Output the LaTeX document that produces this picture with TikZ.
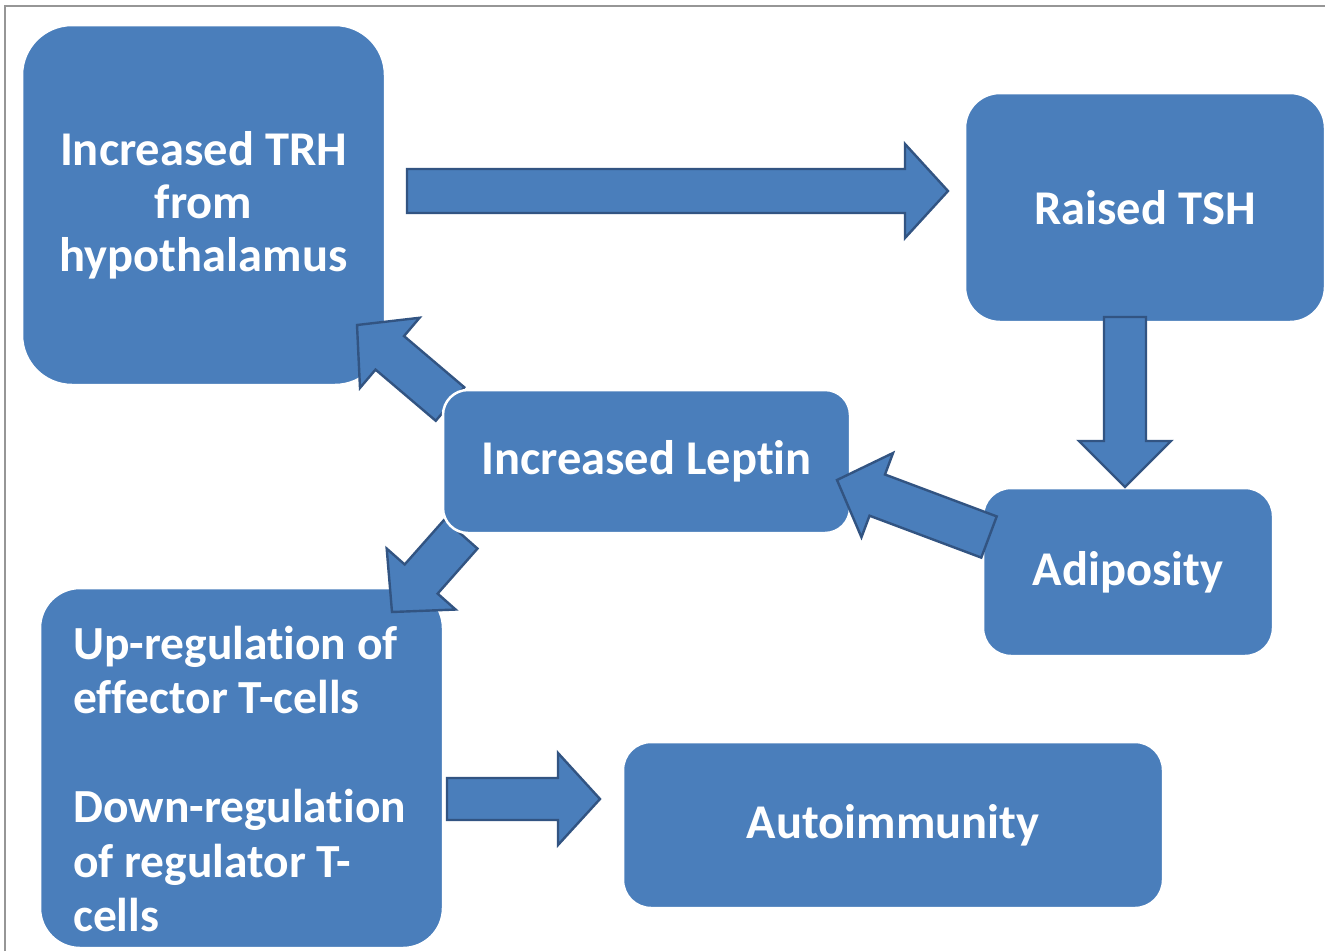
\documentclass[tikz,border=0pt]{standalone}
\usepackage{fontspec}
\setmainfont[Ligatures={NoCommon}]{Carlito}
\usetikzlibrary{calc}
\definecolor{boxblue}{RGB}{74,126,187}
\definecolor{arrowedge}{RGB}{50,84,130}
\definecolor{framegray}{RGB}{150,150,150}
\tikzset{
  box/.style={rectangle, fill=boxblue, draw=white, line width=2.5pt, inner sep=0pt,
    text=white, font=\fontsize{48.5}{53}\selectfont\bfseries, align=center},
  boxtext/.style={text=white, font=\fontsize{47.5}{54.5}\selectfont\bfseries, inner sep=0pt},
  barrow/.style={fill=boxblue, draw=arrowedge, line width=2.4pt, line join=miter},
}
% #1 tail, #2 tip, #3 half shaft width, #4 half head width, #5 head length
\newcommand\blockarrow[5]{%
  \coordinate (bah) at ($(#2)!#5pt!(#1)$);
  \draw[barrow] ($(#1)!#3pt!90:(#2)$) -- ($(bah)!#3pt!90:(#2)$) -- ($(bah)!#4pt!90:(#2)$)
    -- (#2) -- ($(bah)!#4pt!-90:(#2)$) -- ($(bah)!#3pt!-90:(#2)$) -- ($(#1)!#3pt!-90:(#2)$) -- cycle;}
\begin{document}
\begin{tikzpicture}[x=1pt,y=-1pt]
\useasboundingbox (0,0) rectangle (1325,951);
\fill[white] (0,0) rectangle (1325,951);
\draw[framegray, line width=1.5pt] (5,951) -- (5,6) -- (1325,6);

% boxes
\node[box, minimum width=363pt, minimum height=360pt, rounded corners=50pt] (trh) at (203.5,205)
  {Increased TRH\\from\\hypothalamus};
\node[box, minimum width=403pt, minimum height=360pt, rounded corners=40pt] (upreg) at (241.5,768) {};
\node[boxtext, anchor=west, align=left] (upregtext) at (73,779)
  {Up-regulation of\\effector T-cells\\[54.5pt]Down-regulation\\of regulator T-\\cells};
\node[box, minimum width=360pt, minimum height=229pt, rounded corners=35pt] (tsh) at (1145,207.5) {Raised TSH};
\node[box, minimum width=540pt, minimum height=166pt, rounded corners=28pt] (auto) at (893,825) {Autoimmunity};
\node[box, minimum width=290pt, minimum height=168pt, rounded corners=28pt] (adip) at (1128,572) {Adiposity};

% arrow end points
\coordinate (dS) at (450,404);  \coordinate (dT) at (357,325);
\coordinate (eS) at (461,534);  \coordinate (eT) at (392,612);
\coordinate (aS) at (407,191);  \coordinate (aT) at (948,191);
\coordinate (bS) at (1125,317); \coordinate (bT) at (1125,487);
\coordinate (cS) at (989,537);  \coordinate (cT) at (837,480);
\coordinate (fS) at (447,799);  \coordinate (fT) at (600,799);

\blockarrow{dS}{dT}{22}{46}{43}
\blockarrow{eS}{eT}{22}{46}{44}

\node[box, minimum width=407pt, minimum height=143pt, rounded corners=25pt] (leptin) at (646.5,461.5) {Increased Leptin};

\blockarrow{aS}{aT}{22}{47}{43}
\blockarrow{bS}{bT}{21}{46}{46}
\blockarrow{cS}{cT}{22}{45}{43}
\blockarrow{fS}{fT}{21}{46}{42}
\end{tikzpicture}
\end{document}
